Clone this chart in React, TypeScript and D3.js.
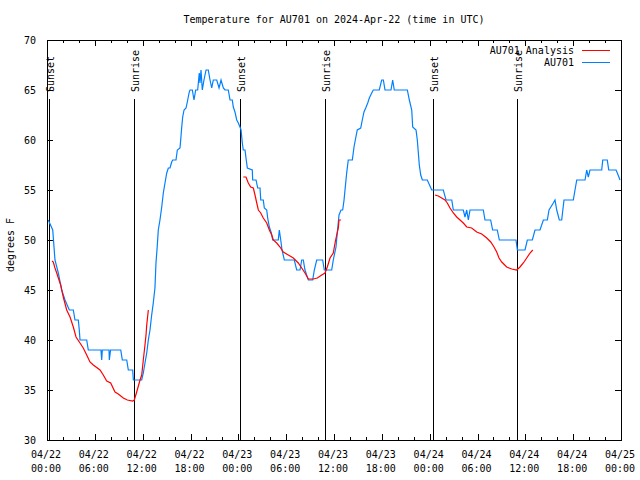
import React from "react";
import * as d3 from "d3";

// Hours since 2024-04-22 00:00 UTC
const obsHours = [0.16,0.72,1.0,1.42,1.84,2.26,2.8,3.3,3.51,3.93,4.05,4.14,4.98,5.18,6.77,6.86,6.94,7.78,7.82,7.97,9.25,9.45,10.0,10.2,10.75,10.83,11.88,12.08,12.29,12.51,12.71,12.92,13.13,13.33,13.54,13.67,13.84,13.96,14.17,14.39,14.59,14.8,15.02,15.22,15.43,15.64,15.77,16.18,16.35,16.68,16.77,16.9,17.02,17.19,17.44,17.6,17.72,17.85,17.94,18.23,18.44,18.65,18.9,19.1,19.19,19.32,19.48,19.69,19.95,20.23,20.45,20.66,20.86,21.29,21.58,21.83,22.12,22.33,22.74,22.96,23.24,23.37,23.58,23.8,24.0,24.21,24.34,24.5,24.62,24.84,24.96,25.13,25.75,25.8,26.22,26.43,26.72,26.81,27.13,27.26,27.56,27.68,27.89,28.14,28.31,29.01,29.14,29.32,29.48,29.77,31.02,31.32,31.74,31.95,32.15,32.36,32.78,33.33,33.53,33.83,34.58,34.78,35.71,35.91,36.25,36.41,36.63,36.88,37.09,37.26,37.38,37.59,37.79,38.3,38.51,38.72,38.92,39.35,39.55,39.76,39.98,40.23,40.43,40.73,40.93,41.68,41.98,42.19,42.4,43.15,43.36,43.56,45.2,45.45,45.75,45.87,46.29,46.45,46.7,46.88,47.08,47.7,48.26,49.71,50.05,50.77,50.97,52.22,52.43,52.65,52.85,53.06,54.73,54.94,55.65,55.9,56.48,56.74,58.83,59.0,59.96,60.25,60.88,61.21,61.84,62.26,62.76,62.97,63.51,63.72,63.94,64.26,64.56,64.85,66.02,66.23,66.45,67.49,67.7,67.9,68.11,69.58,69.71,70.28,70.46,71.38,71.54,71.88];
const obsTemps = [52,51,48,46.7,45,44,43,43,42,42,41,40,40,39,39,38,39,39,38,39,39,38,38,37,37,36,36,36.7,37.7,38.7,40,41,42.5,43.7,45.2,47.7,49.5,51,52,53.3,54.7,55.7,56.7,57.2,57.2,57.8,58,58,59,59.2,60,61.3,62.3,63,63.2,63.8,64.3,64.8,65,65,64,65,65,66.7,65.7,67,65,66,67,67,66,65.2,66,66,65.2,66,65.2,65,65,64,64,63.3,62.8,62,61.7,61.3,61,59.7,59,59,58.2,57.2,57,56,56,55.2,55.2,54,54,53.2,53,52.2,51.3,50.7,50,50,51,50,49,48,48,47,47,48,48,47,46,46,47,48,48,47,47,48,49.3,50.7,52.5,53,53,54,55,56.7,58,58,59.3,60.2,61,61.2,62,62.8,63.2,63.7,64.2,64.7,65,65,66,66,65,65,66,65,65,64,63,61.3,61,60,57.5,56.5,56,56,55,55,54,54,53,53,52.3,53,52,53,53,52,52,51,51,50,50,49,49,50,50,51,51,52,52,53,53.7,54,53,52,52,54,54,55,56,56,57,56.3,57,57,58,58,57,57,56.7,56];

// Analysis series (null = gap)
const anaHours = [0.63,0.79,1.0,1.22,1.42,1.72,2.04,2.47,2.89,3.3,3.64,4.14,4.55,4.98,5.39,5.81,6.65,7.06,7.49,7.99,8.53,8.94,9.57,10.07,10.75,10.95,11.25,11.67,11.88,12.08,12.29,12.42,12.51,12.71,
  18,
  24.62,24.96,25.25,25.55,25.88,26.09,26.31,26.51,26.81,27.13,27.56,27.89,28.19,28.39,28.81,29.23,29.64,30.27,30.9,31.52,31.95,32.36,32.78,33.41,33.91,34.46,34.87,35.16,35.5,35.91,36.13,36.34,36.54,36.63,36.88,
  42,
  48.67,49.08,49.51,49.92,50.21,50.55,50.97,51.39,51.81,52.22,52.65,53.27,53.9,54.53,55.16,55.66,56.07,56.41,56.7,57.04,57.66,58.29,58.91,59.33,59.75,60.17,60.59,60.93];
const anaTemps: (number | null)[] = [47.9,47.8,47.2,46.7,46.2,45.5,44.3,43,42.3,41.3,40.3,39.7,39.2,38.5,37.8,37.5,37,36.5,35.9,35.7,34.8,34.6,34.2,34,33.9,34,34.8,36,36.5,38,39.5,40.5,41.5,43,
  null,
  56.3,56.3,55.7,55.3,55.2,54.5,53.7,53,52.7,52.2,51.7,51,50.5,50,49.7,49.3,48.8,48.5,48.2,47.7,47.2,46.7,46.1,46.1,46.2,46.5,46.7,47.3,48.2,48.7,49.7,50.5,51.2,52,52,
  null,
  54.5,54.4,54.2,54,53.7,53.2,52.7,52.3,52,51.7,51.3,51.2,50.8,50.6,50.2,49.8,49.3,48.8,48.2,47.8,47.3,47.1,47,47.3,47.7,48.2,48.7,49];

const sunEventHours = [0.25, 10.9, 24.2, 34.87, 48.4, 58.95];
const sunEventLabels = ["Sunset", "Sunrise", "Sunset", "Sunrise", "Sunset", "Sunrise"];

const yTicks = [30, 35, 40, 45, 50, 55, 60, 65, 70];
const xTickHours = [0, 6, 12, 18, 24, 30, 36, 42, 48, 54, 60, 66, 72];

const title = "Temperature for AU701 on 2024-Apr-22 (time in UTC)";
const yLabel = "degrees F";
const seriesNames = ["AU701 Analysis", "AU701"];
const seriesColors = ["#ff0000", "#0080ff"];

const W = 640, H = 480;
const L = 47, R = 621, T = 40, B = 440;
const start = Date.UTC(2024, 3, 22);
const toDate = (h: number) => new Date(start + h * 3600 * 1000);

export default function App() {
  const x = d3.scaleUtc().domain([toDate(0), toDate(72)]).range([L, R]);
  const y = d3.scaleLinear().domain([30, 70]).range([B, T]);
  const fmtD = d3.utcFormat("%m/%d");
  const fmtT = d3.utcFormat("%H:%M");
  const font = "'DejaVu Sans Mono', monospace";

  const obs = obsHours.map((h, i) => ({ h, v: obsTemps[i] as number | null }));
  const ana = anaHours.map((h, i) => ({ h, v: anaTemps[i] }));
  const line = d3
    .line<{ h: number; v: number | null }>()
    .defined((d) => d.v != null)
    .x((d) => x(toDate(d.h)))
    .y((d) => y(d.v as number));

  const minorHours = d3.range(0, 73, 2);
  const tickLen = 6, minorLen = 3;

  return (
    <svg width={W} height={H} style={{ position: "absolute", left: 0, top: 0, background: "#fff" }} fontFamily={font} fontSize={10}>
      <rect x={0} y={0} width={W} height={H} fill="#fff" />
      <text x={(L + R) / 2} y={23} textAnchor="middle" fill="#000">{title}</text>
      <text transform={`translate(14,${(T + B) / 2 + 5}) rotate(-90)`} textAnchor="middle" fill="#000">{yLabel}</text>

      <g shapeRendering="crispEdges" stroke="#000" strokeWidth={1}>
        {yTicks.map((t) => (
          <g key={"y" + t}>
            <line x1={L} x2={L + tickLen} y1={Math.round(y(t)) + 0.5} y2={Math.round(y(t)) + 0.5} />
            <line x1={R - tickLen} x2={R} y1={Math.round(y(t)) + 0.5} y2={Math.round(y(t)) + 0.5} />
          </g>
        ))}
        {minorHours.map((h) => {
          const xx = Math.round(x(toDate(h))) + 0.5;
          const len = h % 6 === 0 ? tickLen : minorLen;
          return (
            <g key={"x" + h}>
              <line x1={xx} x2={xx} y1={B} y2={B - len} />
              <line x1={xx} x2={xx} y1={T} y2={T + len} />
            </g>
          );
        })}
        {sunEventHours.map((h, i) => {
          const xx = Math.round(x(toDate(h))) + 0.5;
          return <line key={"s" + i} x1={xx} x2={xx} y1={99} y2={B} />;
        })}
        <rect x={L + 0.5} y={T + 0.5} width={R - L} height={B - T} fill="none" />
      </g>

      {yTicks.map((t) => (
        <text key={"yl" + t} x={36} y={y(t) + 4} textAnchor="end" fill="#000">{t}</text>
      ))}
      {xTickHours.map((h) => {
        const d = toDate(h);
        const xx = x(d) - 1;
        return (
          <g key={"xl" + h}>
            <text x={xx} y={458} textAnchor="middle" fill="#000">{fmtD(d)}</text>
            <text x={xx} y={472} textAnchor="middle" fill="#000">{fmtT(d)}</text>
          </g>
        );
      })}
      {sunEventHours.map((h, i) => {
        const xx = x(toDate(h)) + 5;
        return (
          <text key={"sl" + i} transform={`translate(${xx},92) rotate(-90)`} textAnchor="start" fill="#000">{sunEventLabels[i]}</text>
        );
      })}

      <path d={line(obs) || ""} fill="none" stroke={seriesColors[1]} strokeWidth={1.2} />
      <path d={line(ana) || ""} fill="none" stroke={seriesColors[0]} strokeWidth={1.2} />

      {seriesNames.map((n, i) => {
        const yy = 50 + i * 12;
        return (
          <g key={"lg" + i}>
            <text x={574} y={yy + 4} textAnchor="end" fill="#000">{n}</text>
            <line x1={582} x2={610} y1={yy + 0.5} y2={yy + 0.5} stroke={seriesColors[i]} strokeWidth={1} shapeRendering="crispEdges" />
          </g>
        );
      })}
    </svg>
  );
}
